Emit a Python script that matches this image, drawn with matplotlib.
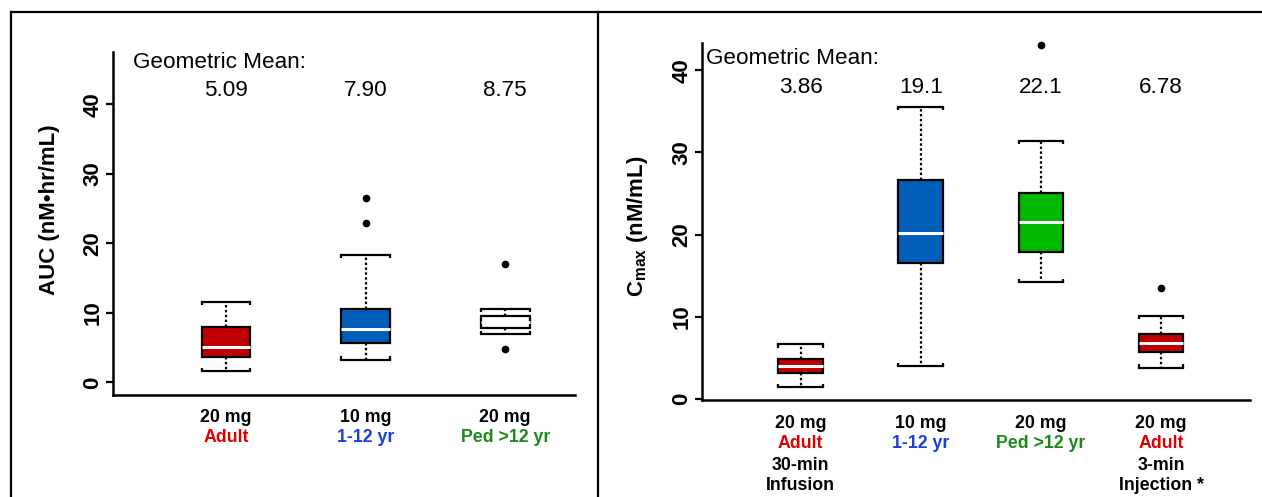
import matplotlib
matplotlib.use("Agg")
import matplotlib.pyplot as plt
from matplotlib.lines import Line2D

plt.rcParams['font.family'] = ['Liberation Sans', 'DejaVu Sans']
plt.rcParams['mathtext.fontset'] = 'custom'
plt.rcParams['mathtext.rm'] = 'Liberation Sans'
plt.rcParams['mathtext.bf'] = 'Liberation Sans:bold'

# AUC panel
auc_dose = ['20 mg', '10 mg', '20 mg']
auc_group = ['Adult', '1-12 yr', 'Ped >12 yr']
auc_geo = ['5.09', '7.90', '8.75']
auc_whislo = [1.7, 3.3, 7.0]
auc_q1 = [3.65, 5.7, 7.9]
auc_med = [5.05, 7.75, 8.7]
auc_q3 = [7.95, 10.5, 9.5]
auc_whishi = [11.6, 18.3, 10.6]
auc_fliers = [[], [22.9, 26.5], [4.85, 17.1]]

# Cmax panel
cmax_dose = ['20 mg', '10 mg', '20 mg', '20 mg']
cmax_group = ['Adult', '1-12 yr', 'Ped >12 yr', 'Adult']
cmax_route = [['30-min', 'Infusion'], [], [], ['3-min', 'Injection *']]
cmax_geo = ['3.86', '19.1', '22.1', '6.78']
cmax_whislo = [1.5, 4.0, 14.25, 3.85]
cmax_q1 = [3.2, 16.6, 17.9, 5.75]
cmax_med = [4.05, 20.25, 21.55, 6.77]
cmax_q3 = [4.94, 26.7, 25.1, 7.9]
cmax_whishi = [6.65, 35.5, 31.35, 10.1]
cmax_fliers = [[], [], [43.0], [13.5]]

RED, BLUE, GREEN = '#C00000', '#005EB8', '#00B800'
lab_colors = {'Adult': '#DD0000', '1-12 yr': '#1A3FD6', 'Ped >12 yr': '#1A8A1A'}


def draw_panel(ax, whislo, q1, med, q3, whishi, fliers, faces, width, hook):
    stats = []
    for i in range(len(med)):
        stats.append(dict(whislo=whislo[i], q1=q1[i], med=med[i], q3=q3[i],
                          whishi=whishi[i], fliers=fliers[i]))
    pos = list(range(1, len(med) + 1))
    bp = ax.bxp(stats, positions=pos, widths=width, capwidths=width,
                patch_artist=True, manage_ticks=False,
                boxprops=dict(edgecolor='black', linewidth=1.6),
                medianprops=dict(color='white', linewidth=2.2),
                whiskerprops=dict(color='black', linewidth=1.6, linestyle=(0, (1.1, 1.1))),
                capprops=dict(color='black', linewidth=1.6),
                flierprops=dict(marker='o', markerfacecolor='black',
                                markeredgecolor='black', markersize=4.5))
    for patch, fc in zip(bp['boxes'], faces):
        patch.set_facecolor(fc)
    for f in bp['fliers']:
        f.set_clip_on(False)
    # little hooks on the cap ends, pointing back towards the box
    for k, cap in enumerate(bp['caps']):
        xs = cap.get_xdata()
        y = cap.get_ydata()[0]
        d = hook if k % 2 == 0 else -hook
        for x in (xs[0], xs[-1]):
            ax.plot([x, x], [y, y + d], color='black', linewidth=1.6,
                    solid_capstyle='butt')
    ax.spines['top'].set_visible(False)
    ax.spines['right'].set_visible(False)
    ax.spines['left'].set_linewidth(1.8)
    ax.spines['bottom'].set_linewidth(1.8)
    ax.set_xticks([])
    ax.set_yticks([0, 10, 20, 30, 40])
    ax.tick_params(axis='y', length=5, width=1.6, labelsize=16, pad=2)
    for lab in ax.get_yticklabels():
        lab.set_rotation(90)
        lab.set_va('center')
        lab.set_fontweight('bold')
    return pos


def x_labels(ax, pos, lines_per_box, first):
    for x, lines in zip(pos, lines_per_box):
        for j, (txt, col) in enumerate(lines):
            off = -(first + 21 * j) * 0.72
            ax.annotate(txt, xy=(x, 0), xycoords=('data', 'axes fraction'),
                        xytext=(0, off), textcoords='offset points',
                        ha='center', va='center', fontsize=12.8,
                        fontweight='bold', color=col, annotation_clip=False)


fig = plt.figure(figsize=(12.62, 4.97), dpi=100)

ax1 = fig.add_axes([113 / 1262, 1 - 395 / 497, 462 / 1262, 343 / 497])
p1 = draw_panel(ax1, auc_whislo, auc_q1, auc_med, auc_q3, auc_whishi, auc_fliers,
                [RED, BLUE, 'white'], 0.35, 0.45)
ax1.set_xlim(0.19, 3.5)
ax1.set_ylim(-1.8, 47.5)
ax1.text(0.33, 46.0, 'Geometric Mean:', fontsize=16.2, ha='left', va='center')
for x, g in zip(p1, auc_geo):
    ax1.text(x, 42.0, g, fontsize=16.2, ha='center', va='center')
x_labels(ax1, p1, [[(d, 'black'), (g, lab_colors[g])]
                   for d, g in zip(auc_dose, auc_group)], 22)
fig.text(50 / 1262, 1 - 210 / 497, 'AUC (nM\u2022hr/mL)', rotation=90,
         ha='center', va='center', fontsize=16, fontweight='bold')

ax2 = fig.add_axes([702 / 1262, 1 - 400 / 497, 548 / 1262, 357 / 497])
p2 = draw_panel(ax2, cmax_whislo, cmax_q1, cmax_med, cmax_q3, cmax_whishi, cmax_fliers,
                [RED, BLUE, GREEN, RED], 0.37, 0.38)
ax2.set_xlim(0.18, 4.74)
ax2.set_ylim(-0.1, 43.3)
ax2.text(0.21, 41.4, 'Geometric Mean:', fontsize=16.2, ha='left', va='center')
for x, g in zip(p2, cmax_geo):
    ax2.text(x, 37.9, g, fontsize=16.2, ha='center', va='center')
x_labels(ax2, p2, [[(d, 'black'), (g, lab_colors[g])] + [(r, 'black') for r in rt]
                   for d, g, rt in zip(cmax_dose, cmax_group, cmax_route)], 23)
fig.text(638 / 1262, 1 - 226 / 497, r'$\mathbf{C}_{\mathbf{max}}$ (nM/mL)', rotation=90,
         ha='center', va='center', fontsize=16, fontweight='bold')

# outer frame and divider between the two panels
top = 1 - 12 / 497
fig.add_artist(Line2D([11 / 1262, 1], [top, top], color='black', linewidth=1.6))
fig.add_artist(Line2D([11 / 1262, 11 / 1262], [0, top], color='black', linewidth=1.6))
fig.add_artist(Line2D([598 / 1262, 598 / 1262], [0, top], color='black', linewidth=1.6))

fig.savefig('out.png', dpi=100)
